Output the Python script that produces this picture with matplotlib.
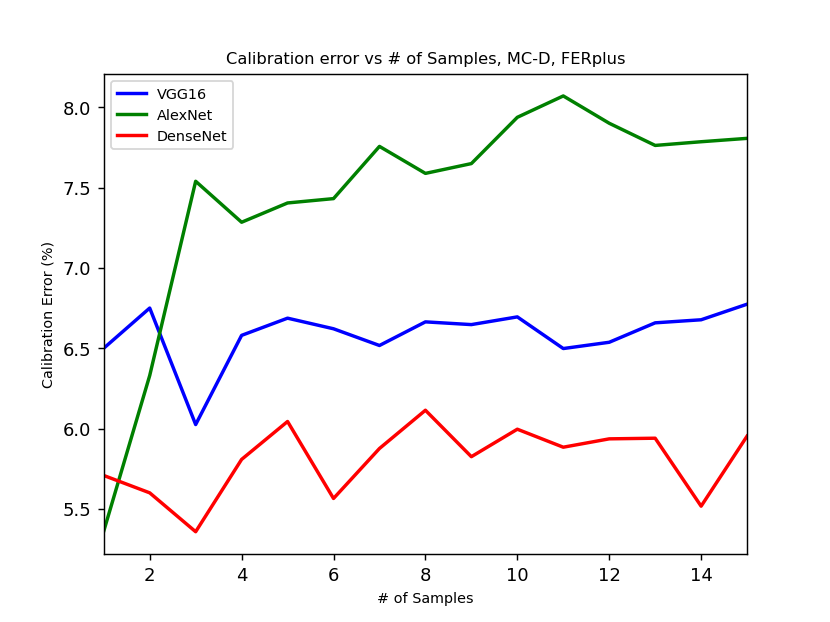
import numpy as np
import matplotlib
matplotlib.use('Agg')
import matplotlib.pyplot as plt

# data
n_samples = np.arange(1, 16)
vgg16 = [6.50, 6.75, 6.025, 6.58, 6.687, 6.621, 6.517, 6.664, 6.647, 6.695,
         6.498, 6.537, 6.658, 6.677, 6.774]
alexnet = [5.362, 6.33, 7.539, 7.284, 7.404, 7.431, 7.756, 7.588, 7.649, 7.937,
           8.07, 7.90, 7.762, 7.785, 7.806]
densenet = [5.708, 5.60, 5.358, 5.808, 6.044, 5.565, 5.876, 6.114, 5.825, 5.996,
            5.884, 5.936, 5.940, 5.517, 5.953]

fig, ax = plt.subplots(figsize=(6.4, 4.8), dpi=129.7)

ax.plot(n_samples, vgg16, color='blue', lw=1.9, label='VGG16')
ax.plot(n_samples, alexnet, color='green', lw=1.9, label='AlexNet')
ax.plot(n_samples, densenet, color='red', lw=1.9, label='DenseNet')

ax.set_xlim(1, 15)
ax.set_title('Calibration error vs # of Samples, MC-D, FERplus', fontsize=9)
ax.set_xlabel('# of Samples', fontsize=8)
ax.set_ylabel('Calibration Error (%)', fontsize=8)
ax.tick_params(labelsize=10)
ax.legend(loc='upper left', fontsize=8)

plt.savefig('out.png', dpi=129.7)
